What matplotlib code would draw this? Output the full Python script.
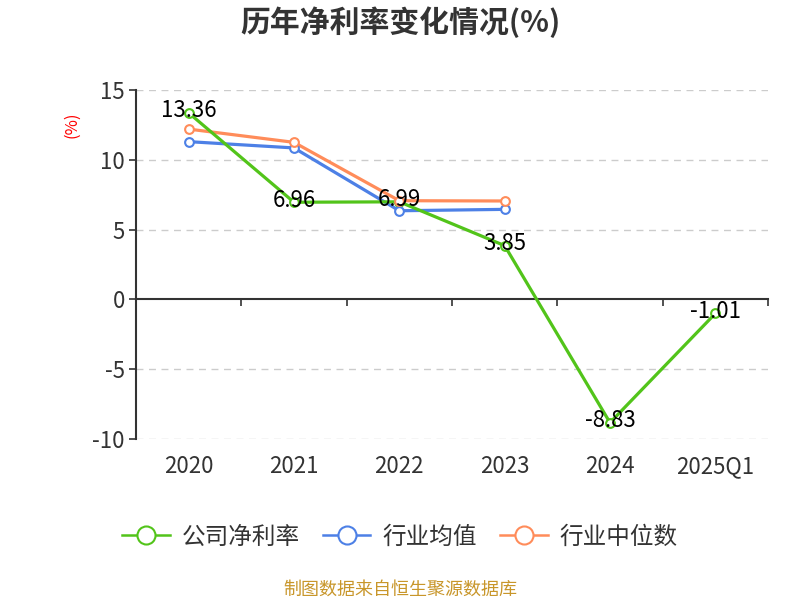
import matplotlib
matplotlib.use("Agg")
import matplotlib.pyplot as plt
from matplotlib.lines import Line2D
from matplotlib import transforms

plt.rcParams['font.family'] = ['Noto Sans CJK SC', 'DejaVu Sans']

categories = ["2020", "2021", "2022", "2023", "2024", "2025Q1"]
company = [13.36, 6.96, 6.99, 3.85, -8.83, -1.01]
industry_avg = [11.3, 10.85, 6.35, 6.45]
industry_median = [12.2, 11.25, 7.07, 7.05]
series_names = ["公司净利率", "行业均值", "行业中位数"]
yticks = [-10, -5, 0, 5, 10, 15]

c_green = "#52c41a"
c_blue = "#4d80e6"
c_orange = "#ff8c5a"

fig = plt.figure(figsize=(8, 6), dpi=100)
ax = fig.add_axes([136/800, 1-439/600, (768-136)/800, (439-90)/600])
ax.set_xlim(-0.5, len(categories) - 0.5)
ax.set_ylim(-10, 15)

x = list(range(len(categories)))
xa = x[:len(industry_avg)]

ax.plot(xa, industry_avg, color=c_blue, lw=2.3, zorder=3)
ax.plot(xa, industry_median, color=c_orange, lw=2.3, zorder=3)
ax.plot(x, company, color=c_green, lw=2.3, zorder=4)
ax.plot(x, company, ls='none', marker='o', ms=6.3, mfc='white', mec=c_green, mew=1.5, zorder=5)
ax.plot(xa, industry_avg, ls='none', marker='o', ms=6.3, mfc='white', mec=c_blue, mew=1.5, zorder=5)
ax.plot(xa, industry_median, ls='none', marker='o', ms=6.3, mfc='white', mec=c_orange, mew=1.5, zorder=5)

for xi, v in zip(x, company):
    ax.annotate(f"{v:.2f}", (xi, v), xytext=(0, 1.5), textcoords='offset points',
                ha='center', va='center', fontsize=16, color='black', zorder=6)

# grid
for yv in yticks:
    if yv != 0:
        ax.axhline(yv, color='#cccccc', lw=1, ls=(0, (5, 4)), zorder=1)

for s in ['top', 'right']:
    ax.spines[s].set_visible(False)
ax.spines['bottom'].set_position(('data', 0))
ax.spines['bottom'].set_color('#333333')
ax.spines['left'].set_color('#333333')
ax.spines['bottom'].set_linewidth(1.5)
ax.spines['left'].set_linewidth(1.5)

ax.set_yticks(yticks)
ax.set_yticklabels([str(v) for v in yticks], fontsize=16, color='#333333')
ax.tick_params(axis='y', length=5, width=1.2, color='#333333', pad=3)

bounds = [i + 0.5 for i in range(len(categories))]
ax.set_xticks(bounds)
ax.set_xticklabels([''] * len(bounds))
ax.tick_params(axis='x', direction='out', length=5, width=1.2, color='#333333')

trans = transforms.blended_transform_factory(ax.transData, ax.transAxes)
for xi, c in zip(x, categories):
    ax.text(xi, -0.08, c, transform=trans, ha='center', va='center', fontsize=16, color='#333333')

fig.text(72/800, 1-125/600, "(%)", rotation=90, color='red', fontsize=12, ha='center', va='center')

fig.text(0.5, 1-22/600, "历年净利率变化情况(%)", ha='center', va='center', fontsize=21.5,
         fontweight='bold', color='#333333')

handles = [Line2D([], [], color=c, lw=1.8, marker='o', ms=13, mfc='white', mec=c, mew=1.5)
           for c in (c_green, c_blue, c_orange)]
fig.legend(handles, series_names, loc='center', bbox_to_anchor=(0.5, 1-537/600), ncol=3,
           frameon=False, fontsize=17, handlelength=2.0, columnspacing=1.0, handletextpad=0.5,
           labelcolor='#333333')

fig.text(0.5, 1-590/600, "制图数据来自恒生聚源数据库", ha='center', va='center', fontsize=13,
         color='#c8962a')

fig.savefig("out.png", dpi=100)
